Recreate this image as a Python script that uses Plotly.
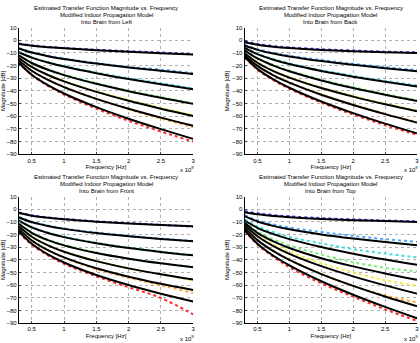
import plotly.graph_objects as go

# Frequencies (x 10^9 Hz)
freq = [0.3, 0.5, 0.75, 1.0, 1.5, 2.0, 2.5, 3.0]

colors = ['#3a3aff', '#4aa8ff', '#44dddd', '#77ee77', '#eeee44', '#ffaa33', '#ff2a2a']

title_line1 = "Estimated Transfer Function Magnitude vs. Frequency"
title_line2 = "Modified Indoor Propagation Model"
titles = ["Into Brain from Left", "Into Brain from Back",
          "Into Brain from Front", "Into Brain from Top"]

# Model (black) curves, dB
model_left = [
    [-3.0, -4.31, -5.48, -6.4, -7.89, -9.15, -10.27, -11.3],
    [-6.5, -9.72, -12.56, -14.8, -18.41, -21.43, -24.12, -26.6],
    [-9.5, -13.7, -17.55, -20.7, -25.98, -30.56, -34.75, -38.7],
    [-12.0, -17.97, -23.28, -27.5, -34.38, -40.18, -45.38, -50.2],
    [-14.0, -21.1, -27.44, -32.5, -40.75, -47.72, -53.98, -59.8],
    [-16.0, -24.1, -31.29, -37.0, -46.27, -54.06, -61.04, -67.5],
    [-18.0, -27.2, -35.4, -42.0, -52.75, -61.9, -70.1, -77.8],
]
model_back = [
    [-1.6, -3.58, -5.13, -6.2, -7.67, -8.67, -9.42, -10.0],
    [-4.2, -7.58, -10.52, -12.8, -16.42, -19.4, -22.01, -24.4],
    [-6.0, -11.0, -15.37, -18.8, -24.28, -28.81, -32.82, -36.5],
    [-8.0, -14.4, -20.04, -24.5, -31.7, -37.7, -43.06, -48.0],
    [-10.2, -17.75, -24.35, -29.5, -37.73, -44.51, -50.5, -56.0],
    [-12.0, -20.27, -27.64, -33.5, -43.05, -51.09, -58.31, -65.0],
    [-13.3, -22.57, -30.87, -37.5, -48.35, -57.54, -65.81, -73.5],
]
model_front = [
    [-3.0, -5.06, -6.75, -8.0, -9.85, -11.25, -12.4, -13.4],
    [-6.5, -10.2, -13.25, -15.5, -18.84, -21.38, -23.48, -25.3],
    [-9.0, -14.33, -18.74, -22.0, -26.87, -30.6, -33.7, -36.4],
    [-11.5, -18.58, -24.33, -28.5, -34.57, -39.07, -42.71, -45.8],
    [-13.5, -21.72, -28.49, -33.5, -40.96, -46.66, -51.38, -55.5],
    [-15.5, -24.67, -32.3, -38.0, -46.6, -53.26, -58.87, -63.8],
    [-17.5, -27.29, -35.63, -42.0, -51.89, -59.81, -66.65, -72.8],
]
model_top = [
    [-2.3, -4.0, -5.34, -6.3, -7.66, -8.62, -9.38, -10.0],
    [-5.5, -9.64, -13.14, -15.8, -19.89, -23.13, -25.91, -28.4],
    [-8.9, -14.65, -19.67, -23.6, -29.87, -35.04, -39.61, -43.8],
    [-10.7, -18.65, -25.42, -30.6, -38.65, -45.1, -50.68, -55.7],
    [-12.5, -21.37, -29.12, -35.2, -44.92, -52.95, -60.07, -66.6],
    [-14.5, -24.37, -33.1, -40.0, -51.16, -60.48, -68.81, -76.5],
    [-16.6, -27.18, -36.68, -44.3, -56.82, -67.45, -77.05, -86.0],
]

# Measured (coloured dotted) data, dB
meas_left = [
    [-2.6, -4.0, -5.2, -6.1, -7.5, -8.6, -9.7, -11.0],
    [-6.2, -9.4, -12.2, -14.4, -18.0, -21.0, -23.2, -25.9],
    [-9.2, -13.4, -17.2, -20.3, -25.5, -30.0, -33.8, -38.0],
    [-11.7, -17.6, -22.9, -27.0, -33.8, -39.6, -44.8, -49.6],
    [-13.7, -20.8, -27.1, -32.1, -40.3, -47.0, -53.2, -59.0],
    [-15.8, -23.9, -31.0, -36.7, -46.2, -54.5, -61.8, -68.6],
    [-17.8, -27.5, -36.0, -42.8, -54.0, -63.5, -72.0, -80.0],
]
meas_back = [
    [-1.0, -3.0, -4.6, -5.7, -7.1, -8.1, -9.0, -9.6],
    [-3.8, -7.0, -10.0, -12.2, -15.6, -18.6, -21.2, -23.6],
    [-5.6, -10.5, -14.8, -18.2, -23.6, -28.1, -32.0, -35.6],
    [-7.6, -13.9, -19.5, -23.9, -31.0, -37.0, -42.4, -47.4],
    [-9.8, -17.3, -23.8, -28.9, -37.2, -44.0, -50.0, -55.4],
    [-11.8, -20.0, -27.3, -33.0, -42.6, -50.8, -58.0, -64.6],
    [-13.6, -23.2, -31.5, -38.2, -49.2, -58.6, -67.0, -74.6],
]
meas_front = [
    [-2.6, -4.8, -6.5, -7.7, -9.5, -11.0, -12.3, -13.8],
    [-6.1, -9.8, -12.9, -15.2, -18.4, -21.0, -23.2, -25.0],
    [-8.8, -14.0, -18.4, -21.6, -26.5, -30.3, -33.4, -36.2],
    [-11.2, -18.3, -24.0, -28.1, -34.2, -38.8, -42.5, -45.6],
    [-13.3, -21.4, -28.2, -33.2, -40.7, -46.5, -51.3, -56.2],
    [-15.6, -24.6, -32.4, -38.3, -47.3, -54.0, -60.0, -66.0],
    [-18.3, -28.0, -36.5, -43.0, -53.0, -61.5, -70.0, -83.0],
]
meas_top = [
    [-1.5, -3.2, -4.6, -5.6, -7.0, -8.0, -8.9, -9.6],
    [-4.8, -8.6, -12.0, -14.5, -18.0, -21.0, -23.6, -25.8],
    [-8.0, -13.5, -18.2, -21.8, -27.0, -31.5, -35.0, -38.0],
    [-10.0, -17.5, -23.8, -28.5, -35.8, -41.8, -46.2, -49.0],
    [-12.0, -20.5, -27.8, -33.5, -42.5, -50.0, -56.0, -60.5],
    [-14.5, -24.0, -32.8, -39.8, -51.0, -60.5, -68.0, -73.5],
    [-17.0, -27.8, -37.5, -45.8, -58.5, -69.0, -79.0, -88.0],
]

yticks = [10, 0, -10, -20, -30, -40, -50, -60, -70, -80, -90]
xticks = [0.5, 1, 1.5, 2, 2.5, 3]
xticklabels = ["0.5", "1", "1.5", "2", "2.5", "3"]

W, H = 420, 343
# panel pixel boxes: (left, right, top, bottom)
boxes = [(17, 193, 25, 154), (245, 419, 25, 154),
         (17, 193, 197, 326), (245, 419, 197, 326)]

models = [model_left, model_back, model_front, model_top]
meas = [meas_left, meas_back, meas_front, meas_top]

fig = go.Figure()
FONT = "Liberation Sans Narrow, Arial Narrow, Liberation Sans, Arial"

for p in range(4):
    xa = "x" if p == 0 else f"x{p+1}"
    ya = "y" if p == 0 else f"y{p+1}"
    for i in range(7):
        fig.add_trace(go.Scatter(x=freq, y=meas[p][i], mode="lines",
                                 line=dict(color=colors[i], width=2, dash="dot", shape="spline"),
                                 xaxis=xa, yaxis=ya, showlegend=False, hoverinfo="skip"))
    for i in range(7):
        fig.add_trace(go.Scatter(x=freq, y=models[p][i], mode="lines",
                                 line=dict(color="black", width=2, shape="spline"),
                                 xaxis=xa, yaxis=ya, showlegend=False, hoverinfo="skip"))

layout = dict(width=W, height=H, margin=dict(l=0, r=0, t=0, b=0),
              paper_bgcolor="white", plot_bgcolor="white",
              font=dict(family=FONT, size=6, color="black"), annotations=[])

for p, (l, r, t, b) in enumerate(boxes):
    xk = "xaxis" if p == 0 else f"xaxis{p+1}"
    yk = "yaxis" if p == 0 else f"yaxis{p+1}"
    ya_name = "y" if p == 0 else f"y{p+1}"
    xa_name = "x" if p == 0 else f"x{p+1}"
    layout[xk] = dict(domain=[l / W, r / W], anchor=ya_name, range=[0.3, 3.0],
                      tickvals=xticks, ticktext=xticklabels, ticks="inside", ticklen=2,
                      showline=True, linecolor="black", linewidth=1,
                      showgrid=True, gridcolor="#b0b0b0", griddash="dot", gridwidth=1,
                      zeroline=False, tickfont=dict(size=6),
                      title=dict(text="Frequency [Hz]", font=dict(size=6), standoff=2))
    layout[yk] = dict(domain=[1 - b / H, 1 - t / H], anchor=xa_name, range=[-90, 10],
                      tickvals=yticks, ticks="inside", ticklen=2,
                      showline=True, linecolor="black", linewidth=1,
                      showgrid=True, gridcolor="#b0b0b0", griddash="dot", gridwidth=1,
                      zeroline=False, tickfont=dict(size=6),
                      title=dict(text="Magnitude [dB]", font=dict(size=6), standoff=2))
    for k, txt in enumerate([title_line1, title_line2, titles[p]]):
        layout["annotations"].append(dict(
            text=txt, x=(l + r) / 2 / W, y=1 - (t - 20 + 7 * k) / H,
            xref="paper", yref="paper", xanchor="center", yanchor="middle",
            showarrow=False, font=dict(size=6, family=FONT, color="black")))
    layout["annotations"].append(dict(
        text="x 10<sup>9</sup>", x=(r - 6) / W, y=1 - (b + 9) / H, xref="paper", yref="paper",
        xanchor="center", yanchor="top", showarrow=False,
        font=dict(size=6, family=FONT, color="black")))

fig.update_layout(**layout)
fig.write_html("out.html")
